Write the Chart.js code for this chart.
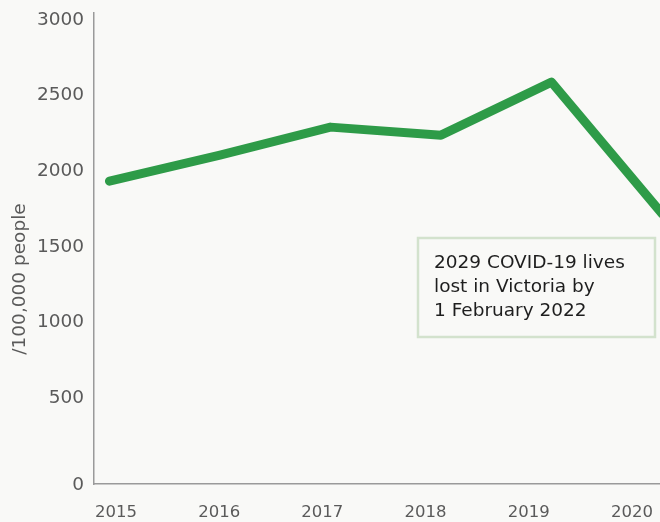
<!DOCTYPE html>
<html>
<head>
<meta charset="utf-8">
<script src="https://cdn.jsdelivr.net/npm/chart.js@4"></script>
<style>
  html, body { margin: 0; padding: 0; background: #f9f9f7; }
  #wrap { width: 660px; height: 522px; position: relative; }
</style>
</head>
<body>
<div id="wrap"><canvas id="c" width="660" height="522"></canvas></div>
<script>
// ---- data ----
const years = [2015, 2016, 2017, 2018, 2019, 2020];
const ratePer100k = [1935, 2107, 2292, 2239, 2589, 1720];
const yTicks = [0, 500, 1000, 1500, 2000, 2500, 3000];
const yAxisTitle = '/100,000 people';
const noteLines = ['2029 COVID-19 lives', 'lost in Victoria by', '1 February 2022'];

const FONT = "'DejaVu Sans', 'Noto Sans', sans-serif";
const GREEN = '#2e9b48';
const AXIS = '#9a9a9a';
const TEXT = '#5a5a5a';

const overlay = {
  id: 'overlay',
  afterDatasetsDraw(chart) {
    const ctx = chart.ctx;
    ctx.save();
    // note box
    ctx.fillStyle = '#f9f9f7';
    ctx.fillRect(418, 238, 237, 99);
    ctx.strokeStyle = '#d3e2cd';
    ctx.lineWidth = 2.5;
    ctx.strokeRect(418, 238, 237, 99);
    ctx.fillStyle = '#1e1e1e';
    ctx.font = '18.5px ' + FONT;
    ctx.textBaseline = 'middle';
    ctx.textAlign = 'left';
    noteLines.forEach((t, i) => ctx.fillText(t, 434, 263 + i * 24));
    // y axis title
    ctx.translate(20, 279);
    ctx.rotate(-Math.PI / 2);
    ctx.fillStyle = TEXT;
    ctx.font = '18.5px ' + FONT;
    ctx.textAlign = 'center';
    ctx.fillText(yAxisTitle, 0, 0);
    ctx.restore();
  }
};

const bg = {
  id: 'bg',
  beforeDraw(chart) {
    const ctx = chart.ctx;
    ctx.save();
    ctx.fillStyle = '#f9f9f7';
    ctx.fillRect(0, 0, chart.width, chart.height);
    ctx.restore();
  }
};

new Chart(document.getElementById('c'), {
  type: 'line',
  data: {
    datasets: [{
      data: ratePer100k.map((v, i) => ({ x: i, y: v })),
      xAxisID: 'xd',
      yAxisID: 'y',
      borderColor: GREEN,
      borderWidth: 9,
      borderJoinStyle: 'round',
      borderCapStyle: 'round',
      pointRadius: 0,
      tension: 0,
      fill: false
    }]
  },
  options: {
    responsive: false,
    animation: false,
    devicePixelRatio: 1,
    layout: { padding: { top: 13, right: 0, left: 0, bottom: 0 } },
    plugins: { legend: { display: false }, tooltip: { enabled: false } },
    scales: {
      xd: {
        type: 'linear',
        display: false,
        min: -0.14,
        max: 4.982
      },
      x: {
        type: 'linear',
        position: 'bottom',
        min: 2014.787,
        max: 2020.272,
        afterBuildTicks: (axis) => { axis.ticks = years.map(v => ({ value: v })); },
        afterFit: (axis) => { axis.height = 38; axis.paddingLeft = 0; axis.paddingRight = 0; },
        grid: { display: false, drawTicks: false },
        border: { display: true, color: AXIS, width: 1.5 },
        ticks: {
          autoSkip: false,
          maxRotation: 0,
          padding: 19,
          color: TEXT,
          font: { family: FONT, size: 16.5 },
          callback: (v) => String(v)
        }
      },
      y: {
        type: 'linear',
        min: -66,
        max: 3046,
        afterBuildTicks: (axis) => { axis.ticks = yTicks.map(v => ({ value: v })); },
        afterFit: (axis) => { axis.width = 94; axis.paddingTop = 0; axis.paddingBottom = 0; },
        grid: { display: false, drawTicks: false },
        border: { display: true, color: AXIS, width: 1.5 },
        title: { display: false },
        ticks: {
          padding: 10,
          color: TEXT,
          font: { family: FONT, size: 18.5 },
          callback: (v) => (v === 0 ? ['', '0'] : String(v))
        }
      }
    }
  },
  plugins: [bg, overlay]
});
</script>
</body>
</html>
